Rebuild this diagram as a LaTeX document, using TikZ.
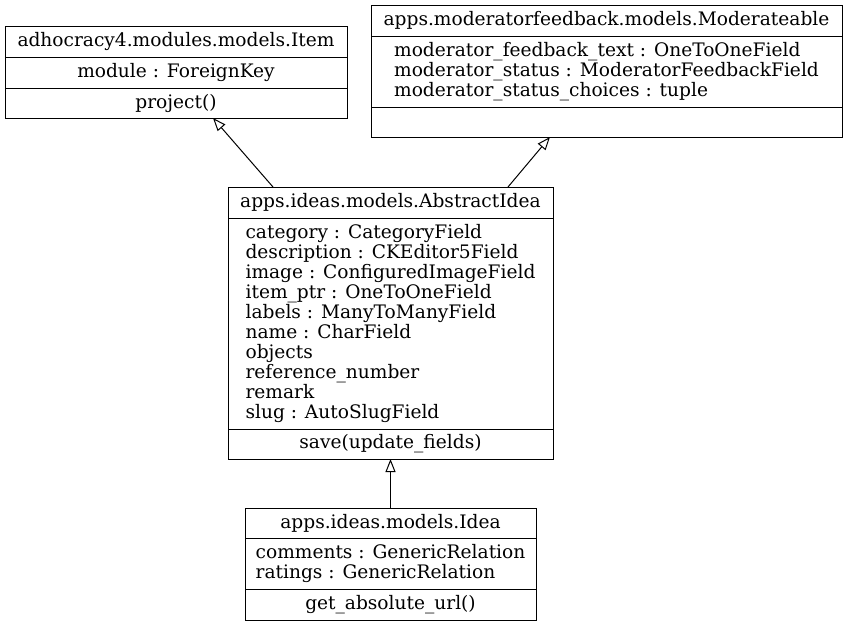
\documentclass[tikz,border=0pt]{standalone}
\usepackage{fontspec}
\setmainfont{DejaVu Serif}
\usepackage{tikz}
\usetikzlibrary{arrows.meta,positioning}

\begin{document}
\begin{tikzpicture}[x=1pt,y=-1pt,
	part/.style={draw,line width=1pt,inner sep=0pt,outer sep=0pt,font=\fontsize{18.6}{20}\selectfont},
	inh/.style={line width=1pt,-{Triangle[open,length=13pt,width=10pt]}}]
\useasboundingbox (0,0) rectangle (847,627);
% adhocracy4 Item
\node (itemT) [part,minimum width=342pt,minimum height=31pt] at (176,41.5) {adhocracy4.modules.models.Item};
\node (itemF) [part,minimum width=342pt,minimum height=31pt,below=0pt of itemT] {module : ForeignKey};
\node (itemM) [part,minimum width=342pt,minimum height=30pt,below=0pt of itemF] {project()};
% Moderateable
\node (modT) [part,minimum width=471pt,minimum height=31pt] at (606.5,20.5) {apps.moderatorfeedback.models.Moderateable};
\node (modF) [part,align=left,minimum width=471pt,minimum height=71pt,below=0pt of modT] {moderator\_feedback\_text : OneToOneField\\moderator\_status : ModeratorFeedbackField\\moderator\_status\_choices : tuple};
\node (modM) [part,minimum width=471pt,minimum height=30pt,below=0pt of modF] {};
% AbstractIdea
\node (absT) [part,minimum width=325pt,minimum height=31pt] at (390.5,202.5) {apps.ideas.models.AbstractIdea};
\node (absF) [part,align=left,minimum width=325pt,minimum height=211pt,below=0pt of absT] {category : CategoryField\\description : CKEditor5Field\\image : ConfiguredImageField\\item\_ptr : OneToOneField\\labels : ManyToManyField\\name : CharField\\objects\\reference\_number\\remark\\slug : AutoSlugField};
\node (absM) [part,minimum width=325pt,minimum height=30pt,below=0pt of absF] {save(update\_fields)};
% Idea
\node (ideaT) [part,minimum width=291pt,minimum height=30pt] at (390.5,523) {apps.ideas.models.Idea};
\node (ideaF) [part,align=left,minimum width=291pt,minimum height=51pt,below=0pt of ideaT] {comments : GenericRelation\\ratings : GenericRelation};
\node (ideaM) [part,minimum width=291pt,minimum height=31pt,below=0pt of ideaF] {get\_absolute\_url()};
% inheritance
\draw[inh] ([xshift=-117.5pt]absT.north) -- ([xshift=37pt]itemM.south);
\draw[inh] ([xshift=117.5pt]absT.north) -- ([xshift=-56.5pt]modM.south);
\draw[inh] (ideaT.north) -- (absM.south);
\end{tikzpicture}
\end{document}
